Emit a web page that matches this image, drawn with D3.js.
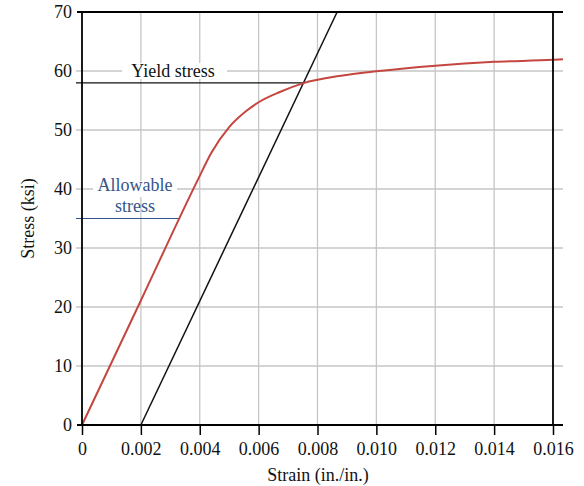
<!DOCTYPE html>
<html>
<head>
<meta charset="utf-8">
<script src="https://cdn.jsdelivr.net/npm/d3@7"></script>
<style>
  body { margin: 0; background: #fff; }
  svg { font-family: "Liberation Serif", "DejaVu Serif", serif; }
</style>
</head>
<body>
<div id="chart"></div>
<script>
// stress-strain curve (red)
const curveStrain = [0, 0.002, 0.0039, 0.0044, 0.005, 0.0056, 0.006, 0.0067, 0.0075, 0.0088, 0.010, 0.012, 0.014, 0.016, 0.01634];
const curveStress = [0, 21.1, 41.2, 46.2, 50.5, 53.3, 54.7, 56.4, 57.9, 59.2, 59.95, 60.9, 61.55, 61.9, 62.0];

// 0.2% offset line (black)
const offsetStrain = [0.002, 0.008667];
const offsetStress = [0, 70];

const yieldStress = 58;
const allowableStress = 35;
const yieldEndStrain = 0.00752;
const allowableEndStrain = 0.00333;

const xTicks = [0, 0.002, 0.004, 0.006, 0.008, 0.010, 0.012, 0.014, 0.016];
const xTickLabels = ["0", "0.002", "0.004", "0.006", "0.008", "0.010", "0.012", "0.014", "0.016"];
const yTicks = [0, 10, 20, 30, 40, 50, 60, 70];

const width = 584, height = 486;
const margin = {top: 12, right: 21, bottom: 61, left: 82};

const svg = d3.select("#chart").append("svg")
    .attr("width", width)
    .attr("height", height);

const x = d3.scaleLinear()
    .domain([0, 0.01634])
    .range([margin.left, width - margin.right]);

const y = d3.scaleLinear()
    .domain([0, 70])
    .range([height - margin.bottom, margin.top]);

const grid = "#c6c6c6";

// vertical gridlines
svg.append("g")
    .selectAll("line")
    .data(xTicks.filter(d => d > 0 && d < 0.016))
    .join("line")
    .attr("x1", d => x(d)).attr("x2", d => x(d))
    .attr("y1", y(70)).attr("y2", y(0))
    .attr("stroke", grid)
    .attr("stroke-width", 1.3);

// horizontal gridlines (run out past the axis like ticks)
svg.append("g")
    .selectAll("line")
    .data(yTicks.filter(d => d > 0 && d < 70))
    .join("line")
    .attr("x1", x(0) - 6).attr("x2", x(0.01634))
    .attr("y1", d => y(d)).attr("y2", d => y(d))
    .attr("stroke", grid)
    .attr("stroke-width", 1.3);

// yield stress line
svg.append("line")
    .attr("x1", x(0) - 6).attr("x2", x(yieldEndStrain))
    .attr("y1", y(yieldStress)).attr("y2", y(yieldStress))
    .attr("stroke", "#111")
    .attr("stroke-width", 1.2);

// allowable stress line
svg.append("line")
    .attr("x1", x(0) - 6).attr("x2", x(allowableEndStrain))
    .attr("y1", y(allowableStress)).attr("y2", y(allowableStress))
    .attr("stroke", "#34558c")
    .attr("stroke-width", 1.2);

// labels with white backing
const yl = svg.append("g");
yl.append("rect")
    .attr("x", 122).attr("y", y(60) - 8)
    .attr("width", 105).attr("height", 16)
    .attr("fill", "#fff");
yl.append("text")
    .attr("x", 173).attr("y", y(60) + 6)
    .attr("text-anchor", "middle")
    .style("font-size", "18px")
    .attr("fill", "#111")
    .text("Yield stress");

const al = svg.append("g");
al.append("rect")
    .attr("x", 93).attr("y", y(40) - 8)
    .attr("width", 84).attr("height", 16)
    .attr("fill", "#fff");
al.append("text")
    .attr("x", 135).attr("y", 191)
    .attr("text-anchor", "middle")
    .style("font-size", "18px")
    .attr("fill", "#34558c")
    .text("Allowable");
al.append("text")
    .attr("x", 135).attr("y", 212)
    .attr("text-anchor", "middle")
    .style("font-size", "18px")
    .attr("fill", "#34558c")
    .text("stress");

// offset line
const offsetData = offsetStrain.map((s, i) => [s, offsetStress[i]]);
svg.append("path")
    .datum(offsetData)
    .attr("fill", "none")
    .attr("stroke", "#111")
    .attr("stroke-width", 1.5)
    .attr("d", d3.line().x(d => x(d[0])).y(d => y(d[1])));

// stress-strain curve
const curveData = curveStrain.map((s, i) => [s, curveStress[i]]);
svg.append("path")
    .datum(curveData)
    .attr("fill", "none")
    .attr("stroke", "#c4463f")
    .attr("stroke-width", 2)
    .attr("d", d3.line().curve(d3.curveMonotoneX).x(d => x(d[0])).y(d => y(d[1])));

// right border at 0.016
svg.append("line")
    .attr("x1", x(0.016)).attr("x2", x(0.016))
    .attr("y1", y(70)).attr("y2", y(0))
    .attr("stroke", "#000")
    .attr("stroke-width", 1.8);

// top border
svg.append("line")
    .attr("x1", x(0) - 5).attr("x2", x(0.01634))
    .attr("y1", y(70)).attr("y2", y(70))
    .attr("stroke", "#000")
    .attr("stroke-width", 1.8);

// x axis
const xAxis = svg.append("g")
    .attr("transform", `translate(0,${y(0)})`)
    .call(d3.axisBottom(x).tickValues(xTicks).tickFormat((d, i) => xTickLabels[i]).tickSize(10).tickPadding(7));
xAxis.select(".domain").attr("d", `M${x(0) - 5},0H${x(0.01634)}`).attr("stroke-width", 1.8);
xAxis.selectAll(".tick line").attr("stroke-width", 1.5);
xAxis.selectAll("text")
    .style("font-size", "18px")
    .style("font-family", "Liberation Serif")
    .attr("fill", "#111");

// y axis
const yAxis = svg.append("g")
    .attr("transform", `translate(${x(0)},0)`)
    .call(d3.axisLeft(y).tickValues(yTicks).tickSize(0).tickPadding(10));
yAxis.select(".domain").attr("d", `M0,${y(70)}V${y(0)}`).attr("stroke-width", 1.8);
yAxis.selectAll("text")
    .style("font-size", "18px")
    .style("font-family", "Liberation Serif")
    .attr("fill", "#111");

// y tick for 0 (black)
svg.append("line")
    .attr("x1", x(0) - 5).attr("x2", x(0))
    .attr("y1", y(0)).attr("y2", y(0))
    .attr("stroke", "#000").attr("stroke-width", 1.8);

// axis titles
svg.append("text")
    .attr("x", 318).attr("y", 481)
    .attr("text-anchor", "middle")
    .style("font-size", "18px")
    .attr("fill", "#111")
    .text("Strain (in./in.)");

svg.append("text")
    .attr("transform", `translate(34,${y(35)}) rotate(-90)`)
    .attr("text-anchor", "middle")
    .style("font-size", "18px")
    .attr("fill", "#111")
    .text("Stress (ksi)");
</script>
</body>
</html>
